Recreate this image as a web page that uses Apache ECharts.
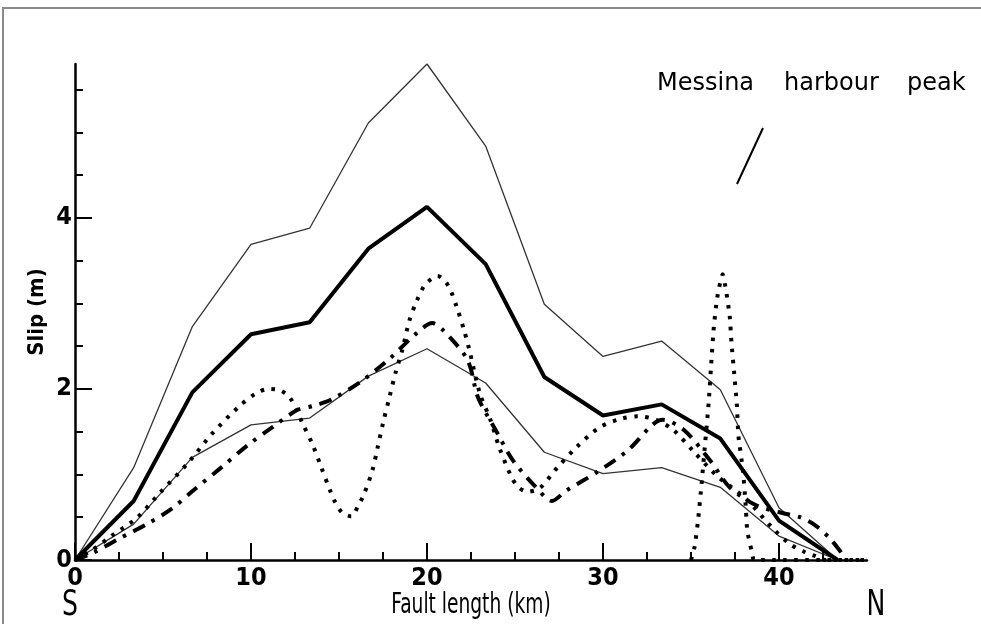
<!DOCTYPE html>
<html>
<head>
<meta charset="utf-8">
<script src="https://cdn.jsdelivr.net/npm/echarts@6/dist/echarts.min.js"></script>
<style>
html,body{margin:0;padding:0;background:#fff;}
#chart{width:981px;height:624px;}
</style>
</head>
<body>
<div id="chart"></div>
<script>
// ---- data ----
const gridKm   = [0, 3.333, 6.667, 10, 13.333, 16.667, 20, 23.333, 26.667, 30, 33.333, 36.667, 40, 43.333];
const upperSlip = [0, 1.08, 2.73, 3.69, 3.88, 5.11, 5.80, 4.84, 2.99, 2.38, 2.56, 1.99, 0.61, 0];
const meanSlip  = [0, 0.69, 1.96, 2.64, 2.78, 3.64, 4.13, 3.46, 2.14, 1.69, 1.82, 1.42, 0.46, 0];
const lowerSlip = [0, 0.42, 1.20, 1.58, 1.66, 2.15, 2.47, 2.07, 1.26, 1.01, 1.08, 0.85, 0.28, 0];

const dotKm   = [0, 1.0, 2.0, 3.5, 4.8, 6.4, 7.8, 9.4, 10.3, 11.0, 11.7, 12.2, 12.6, 12.9, 13.5, 14.0, 14.5, 14.8, 15.2, 15.7, 16.1, 16.4, 16.9, 17.2, 17.5, 17.85, 18.2, 18.6, 19.0, 19.4, 19.9, 20.6, 21.2, 21.7, 22.1, 22.4, 23.0, 23.6, 24.1, 24.8, 25.2, 25.7, 26.4, 27.4, 28.5, 29.8, 31.0, 32.0, 33.0, 34.0, 35.1, 36.5, 38.1, 39.6, 40.6, 41.4, 42.0, 42.7, 45.0];
const dotSlip = [0, 0.12, 0.27, 0.49, 0.78, 1.13, 1.48, 1.81, 1.95, 2.00, 1.98, 1.90, 1.75, 1.61, 1.35, 1.08, 0.81, 0.67, 0.55, 0.51, 0.64, 0.76, 1.05, 1.32, 1.60, 1.89, 2.18, 2.46, 2.80, 3.02, 3.22, 3.32, 3.21, 2.95, 2.69, 2.46, 1.95, 1.64, 1.32, 0.97, 0.85, 0.80, 0.84, 1.08, 1.32, 1.55, 1.65, 1.68, 1.64, 1.52, 1.28, 0.98, 0.72, 0.38, 0.19, 0.10, 0.05, 0, 0];

const spikeKm   = [35.0, 35.2, 35.4, 35.6, 35.8, 36.0, 36.15, 36.3, 36.5, 36.8, 37.0, 37.2, 37.3, 37.45, 37.6, 37.7, 37.95, 38.1, 38.2, 38.45, 38.6, 45.0];
const spikeSlip = [0, 0.15, 0.46, 0.89, 1.36, 1.83, 2.30, 2.73, 3.08, 3.34, 3.14, 2.85, 2.54, 2.19, 1.83, 1.44, 1.05, 0.66, 0.34, 0.10, 0, 0];

const ddKm   = [0, 1.0, 2.5, 4.1, 5.5, 6.7, 8.3, 9.8, 11.2, 12.6, 13.5, 14.5, 16.2, 17.8, 19.4, 20.3, 20.9, 22.3, 22.9, 23.9, 24.9, 26.2, 27.1, 27.9, 29.6, 31.4, 32.8, 33.4, 34.6, 36.1, 37.2, 38.7, 40.2, 41.2, 42.1, 42.9, 43.6, 43.8];
const ddSlip = [0, 0.08, 0.25, 0.42, 0.60, 0.81, 1.08, 1.34, 1.55, 1.75, 1.80, 1.87, 2.08, 2.34, 2.65, 2.77, 2.69, 2.34, 1.90, 1.52, 1.16, 0.85, 0.69, 0.81, 1.02, 1.28, 1.58, 1.64, 1.52, 1.16, 0.85, 0.64, 0.55, 0.50, 0.40, 0.25, 0.07, 0];

const xMajorTicks = [0, 10, 20, 30, 40];
const xMinorTicks = [2.5, 5, 7.5, 12.5, 15, 17.5, 22.5, 25, 27.5, 32.5, 35, 37.5, 42.5];
const yMajorTicks = [0, 2, 4];
const yMinorTicks = [0.5, 1, 1.5, 2.5, 3, 3.5, 4.5, 5, 5.5];

const xTitle = 'Fault length (km)';
const yTitle = 'Slip (m)';
const annotWords = ['Messina', 'harbour', 'peak'];

// ---- build ----
function pairs(xs, ys) { return xs.map((x, i) => [x, ys[i]]); }

const NARROW = "'Liberation Sans Narrow', 'DejaVu Sans Condensed', sans-serif";
const WIDE = "'DejaVu Sans', sans-serif";

const chart = echarts.init(document.getElementById('chart'), null, {renderer: 'canvas'});

const baseX = {type: 'value', min: 0, max: 45, gridIndex: 0, position: 'bottom', splitLine: {show: false}};
const baseY = {type: 'value', min: 0, max: 5.8, gridIndex: 0, position: 'left', splitLine: {show: false}};

const option = {
  animation: false,
  backgroundColor: '#fff',
  grid: {left: 75, right: 114, top: 64, bottom: 64, containLabel: false},
  xAxis: [
    Object.assign({}, baseX, {
      axisLine: {show: true, onZero: false, lineStyle: {color: '#000', width: 2.5}},
      axisTick: {show: true, inside: true, length: 17, customValues: xMajorTicks, lineStyle: {color: '#000', width: 2}},
      axisLabel: {show: true, customValues: xMajorTicks, margin: 6, color: '#000', fontSize: 25, fontWeight: 'bold', fontFamily: NARROW}
    }),
    Object.assign({}, baseX, {
      axisLine: {show: false},
      axisTick: {show: true, inside: true, length: 8, customValues: xMinorTicks, lineStyle: {color: '#000', width: 2}},
      axisLabel: {show: false}
    })
  ],
  yAxis: [
    Object.assign({}, baseY, {
      axisLine: {show: true, onZero: false, lineStyle: {color: '#000', width: 2.5}},
      axisTick: {show: true, inside: true, length: 17, customValues: yMajorTicks, lineStyle: {color: '#000', width: 2}},
      axisLabel: {show: true, customValues: yMajorTicks, margin: 3, color: '#000', fontSize: 25, fontWeight: 'bold', fontFamily: NARROW}
    }),
    Object.assign({}, baseY, {
      axisLine: {show: false},
      axisTick: {show: true, inside: true, length: 8, customValues: yMinorTicks, lineStyle: {color: '#000', width: 2}},
      axisLabel: {show: false}
    })
  ],
  series: [
    {type: 'line', name: 'upper', data: pairs(gridKm, upperSlip), showSymbol: false, symbol: 'none', lineStyle: {color: '#333', width: 1.3}},
    {type: 'line', name: 'lower', data: pairs(gridKm, lowerSlip), showSymbol: false, symbol: 'none', lineStyle: {color: '#333', width: 1.3}},
    {type: 'line', name: 'mean', data: pairs(gridKm, meanSlip), showSymbol: false, symbol: 'none', lineStyle: {color: '#000', width: 4}},
    {type: 'line', name: 'dotted', data: pairs(dotKm, dotSlip), showSymbol: false, symbol: 'none', smooth: 0.3, lineStyle: {color: '#000', width: 4, type: [3.5, 7.5], cap: 'butt'}},
    {type: 'line', name: 'spike', data: pairs(spikeKm, spikeSlip), showSymbol: false, symbol: 'none', smooth: 0.2, lineStyle: {color: '#000', width: 4, type: [3.5, 7.5], cap: 'butt'}},
    {type: 'line', name: 'dashdot', data: pairs(ddKm, ddSlip), showSymbol: false, symbol: 'none', smooth: 0.3, lineStyle: {color: '#000', width: 4, type: [13, 8, 3.5, 8], cap: 'butt'}}
  ],
  graphic: [
    {type: 'rect', silent: true, shape: {x: 3, y: 8, width: 1200, height: 800}, style: {fill: 'none', stroke: '#8a8a8a', lineWidth: 2}},
    {type: 'text', x: 471, y: 606, scaleX: 0.74, style: {text: xTitle, align: 'center', verticalAlign: 'middle', fontSize: 28, fontFamily: NARROW, fill: '#000'}},
    {type: 'text', x: 37, y: 312, rotation: Math.PI / 2, style: {text: yTitle, align: 'center', verticalAlign: 'middle', fontSize: 22, fontWeight: 'bold', fontFamily: NARROW, fill: '#000'}},
    {type: 'text', x: 70, y: 606, scaleX: 0.8, style: {text: 'S', align: 'center', verticalAlign: 'middle', fontSize: 35, fontFamily: NARROW, fill: '#000'}},
    {type: 'text', x: 876, y: 606, scaleX: 0.8, style: {text: 'N', align: 'center', verticalAlign: 'middle', fontSize: 35, fontFamily: NARROW, fill: '#000'}},
    {type: 'text', x: 657, y: 84, style: {text: annotWords[0], align: 'left', verticalAlign: 'middle', fontSize: 24, fontFamily: WIDE, fill: '#000'}},
    {type: 'text', x: 784, y: 84, style: {text: annotWords[1], align: 'left', verticalAlign: 'middle', fontSize: 24, fontFamily: WIDE, fill: '#000'}},
    {type: 'text', x: 907, y: 84, style: {text: annotWords[2], align: 'left', verticalAlign: 'middle', fontSize: 24, fontFamily: WIDE, fill: '#000'}},
    {type: 'line', silent: true, shape: {x1: 763, y1: 128, x2: 737, y2: 184}, style: {stroke: '#000', lineWidth: 2}}
  ]
};
chart.setOption(option);
</script>
</body>
</html>
